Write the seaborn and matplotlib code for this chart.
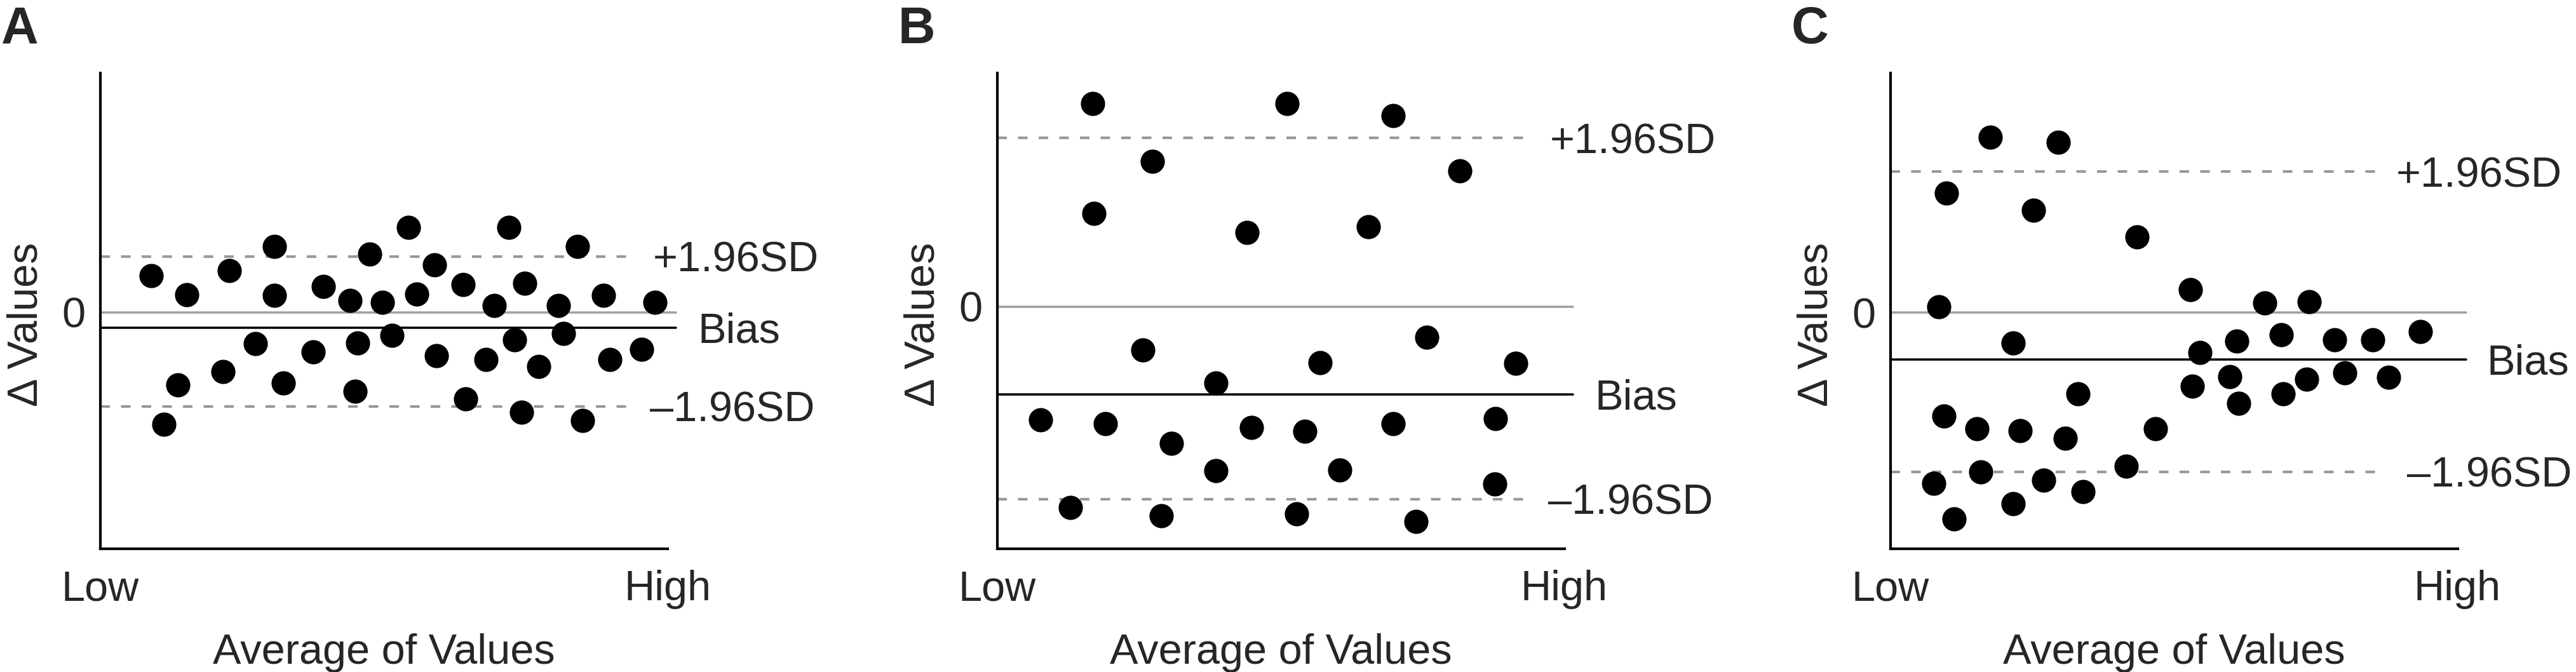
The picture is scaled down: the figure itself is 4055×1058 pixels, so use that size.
import numpy as np
import matplotlib
matplotlib.use("Agg")
import matplotlib.pyplot as plt
import seaborn as sns

sns.set_style("white")
plt.rcParams['font.family'] = ['Liberation Sans', 'DejaVu Sans']

# panel A - random scatter around bias
a_x = [0.090, 0.112, 0.137, 0.153, 0.217, 0.228, 0.274, 0.307, 0.307, 0.323,
       0.376, 0.394, 0.441, 0.449, 0.454, 0.475, 0.498, 0.514, 0.544, 0.558,
       0.589, 0.593, 0.640, 0.644, 0.680, 0.695, 0.720, 0.731, 0.743, 0.748,
       0.773, 0.808, 0.817, 0.841, 0.850, 0.887, 0.898, 0.954, 0.978]
a_y = [0.85, -2.62, -1.70, 0.41, -1.38, 0.97, -0.74, 1.53, 0.40, -1.65,
       -0.92, 0.60, 0.28, -1.85, -0.72, 1.36, 0.23, -0.54, 1.98, 0.42,
       1.10, -1.02, 0.64, -2.02, -1.10, 0.16, 1.98, -0.64, -2.34, 0.68,
       -1.27, 0.16, -0.50, 1.53, -2.52, 0.40, -1.10, -0.87, 0.23]

# panel B - bimodal scatter
b_x = [0.077, 0.129, 0.168, 0.171, 0.191, 0.257, 0.274, 0.290, 0.307, 0.386,
       0.386, 0.441, 0.448, 0.511, 0.528, 0.543, 0.569, 0.604, 0.655, 0.698,
       0.698, 0.739, 0.758, 0.816, 0.877, 0.879, 0.914]
b_y = [-2.64, -4.69, 4.74, 2.18, -2.74, -1.02, 3.40, -4.89, -3.19, -1.79,
       -3.84, 1.73, -2.82, 4.74, -4.84, -2.92, -1.31, -3.82, 1.86, 4.46,
       -2.74, -5.02, -0.72, 3.18, -4.14, -2.62, -1.32]

# panel C - spread shrinking with level
c_x = [0.077, 0.086, 0.095, 0.099, 0.113, 0.153, 0.160, 0.176, 0.217, 0.217,
       0.229, 0.253, 0.270, 0.296, 0.308, 0.331, 0.340, 0.416, 0.435, 0.468,
       0.529, 0.533, 0.546, 0.598, 0.611, 0.614, 0.660, 0.689, 0.693, 0.734,
       0.738, 0.783, 0.801, 0.851, 0.878, 0.934]
c_y = [-3.99, 0.14, -2.41, 2.79, -4.81, -2.71, -3.71, 4.09, -0.71, -4.46,
       -2.76, 2.39, -3.91, 3.97, -2.93, -1.89, -4.18, -3.59, 1.77, -2.71,
       0.54, -1.71, -0.93, -1.49, -0.67, -2.11, 0.23, -0.51, -1.89, -1.56,
       0.26, -0.63, -1.41, -0.63, -1.51, -0.44]

panel_names = ["A", "B", "C"]
xs = [a_x, b_x, c_x]
ys = [a_y, b_y, c_y]
bias = [-0.36, -2.05, -1.09]
upper = [1.30, 3.94, 3.29]
lower = [-2.20, -4.50, -3.71]
ylims = [(-5.52, 5.58), (-5.66, 5.46), (-5.51, 5.59)]
dash_end = [0.940, 0.938, 0.858]
lab_upper_x = [0.974, 0.974, 0.892]
lab_bias_x = [1.054, 1.054, 1.051]
lab_lower_x = [0.969, 0.971, 0.911]

W, H = 4055, 1058
fig = plt.figure(figsize=(W / 300, H / 300), dpi=300)
lefts = [157.6, 1569.5, 2975.5]
fs = 16

for i in range(3):
    ax = fig.add_axes([lefts[i] / W, (H - 864) / H, 893 / W, 749 / H])
    ax.set_xlim(0, 1)
    ax.set_ylim(*ylims[i])

    ax.axhline(0, xmin=0, xmax=1.015, color="#a0a0a0", lw=0.85, clip_on=False, zorder=1)
    ax.axhline(bias[i], xmin=0, xmax=1.015, color="black", lw=0.85, clip_on=False, zorder=1)
    for v in (upper[i], lower[i]):
        ax.axhline(v, xmin=0, xmax=dash_end[i], color="#999999", lw=1.0,
                   dashes=(3.6, 4.2), zorder=1)

    sns.scatterplot(x=xs[i], y=ys[i], ax=ax, color="black", s=84,
                    linewidth=0, clip_on=False, zorder=3)

    ax.text(lab_upper_x[i], upper[i], "+1.96SD", fontsize=fs, va="center_baseline", ha="left")
    ax.text(lab_bias_x[i], bias[i], "Bias", fontsize=fs, va="center_baseline", ha="left")
    ax.text(lab_lower_x[i], lower[i], "\u20131.96SD", fontsize=fs, va="center_baseline", ha="left")

    sns.despine(ax=ax)
    for sp in ("left", "bottom"):
        ax.spines[sp].set_linewidth(1.0)
        ax.spines[sp].set_color("black")

    ax.set_xticks([0, 1])
    ax.set_xticklabels(["Low", "High"])
    ax.set_yticks([0])
    ax.set_yticklabels(["0"])
    ax.tick_params(axis="x", length=0, pad=8, labelsize=fs)
    ax.tick_params(axis="y", length=0, pad=5.5, labelsize=fs)
    ax.set_xlabel("Average of Values", fontsize=fs, labelpad=9)
    ax.set_ylabel("\u0394 Values", fontsize=fs)
    ax.yaxis.set_label_coords(-0.095, 0.4713)

    fig.text((lefts[i] - 156) / W, 1 - 9 / H, panel_names[i], fontsize=19.5,
             fontweight="bold", ha="left", va="top")

fig.savefig("out.png", dpi=300)
